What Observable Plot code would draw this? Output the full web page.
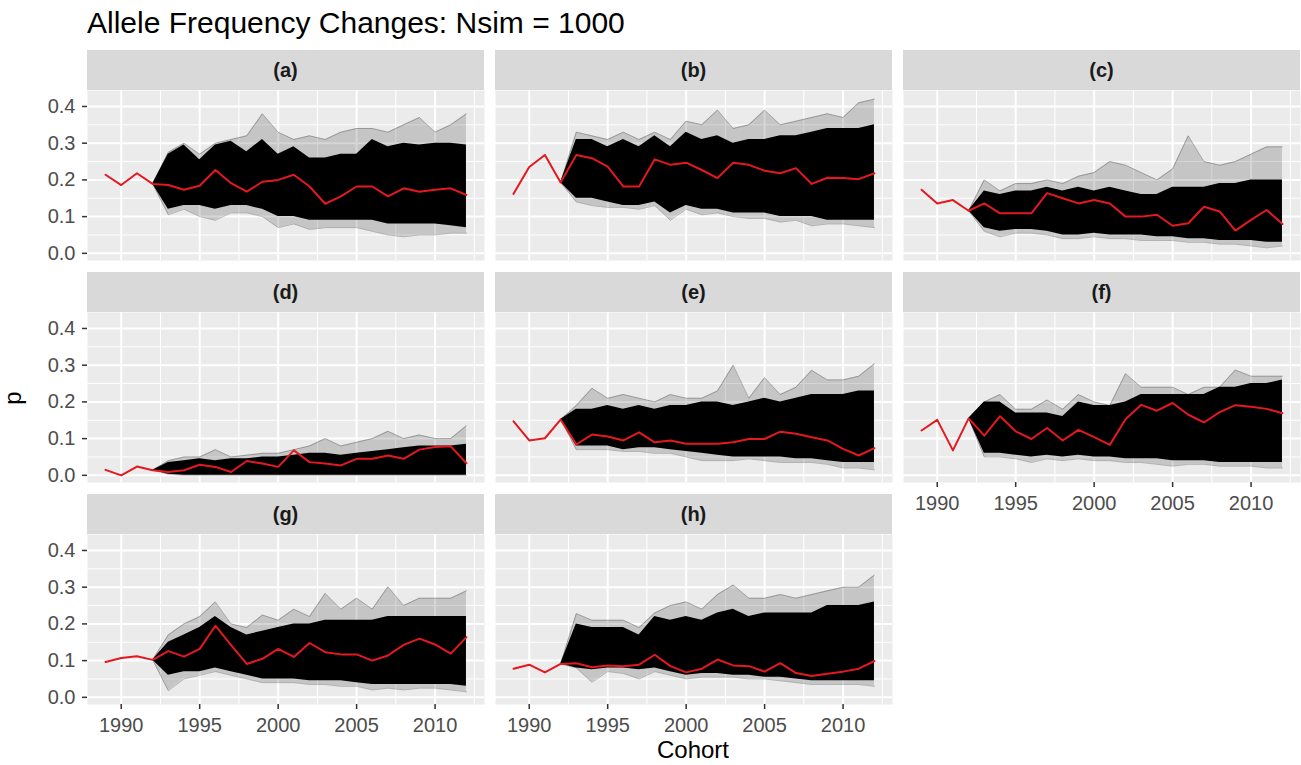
<!DOCTYPE html>
<html>
<head>
<meta charset="utf-8">
<script src="https://cdn.jsdelivr.net/npm/d3@7"></script>
<script src="https://cdn.jsdelivr.net/npm/@observablehq/plot@0.6"></script>
<style>
  body { margin: 0; background: #fff; }
  #root { position: relative; width: 1301px; height: 765px; overflow: hidden; background: #fff;
          font-family: "Liberation Sans", Arial, sans-serif; }
  .strip { position: absolute; height: 40px; background: #D9D9D9; color: #1A1A1A; font-weight: bold;
           font-size: 20px; line-height: 40px; text-align: center; }
  .title { position: absolute; left: 87px; top: 8px; font-size: 30px; line-height: 30px; color: #000; white-space: nowrap; }
  .xlab { position: absolute; left: 593px; width: 200px; top: 740px; font-size: 24px; line-height: 20px; height: 22px; text-align: center; color: #000; }
  .ylab { position: absolute; left: -37px; width: 100px; top: 386px; height: 24px; font-size: 24px; line-height: 24px;
          text-align: center; color: #000; transform: rotate(-90deg); transform-origin: 50% 50%; }
</style>
</head>
<body>
<div id="root"></div>
<script>
// ---------- data ----------
const cohorts = [1989,1990,1991,1992,1993,1994,1995,1996,1997,1998,1999,2000,2001,2002,2003,2004,2005,2006,2007,2008,2009,2010,2011,2012];
const simCohorts = [1992,1993,1994,1995,1996,1997,1998,1999,2000,2001,2002,2003,2004,2005,2006,2007,2008,2009,2010,2011,2012];
const panelLabels = ["(a)","(b)","(c)","(d)","(e)","(f)","(g)","(h)"];
const xTicks = [1990,1995,2000,2005,2010];
const xMinor = [1992.5,1997.5,2002.5,2007.5,2012.5];
const yTicks = [0,0.1,0.2,0.3,0.4];
const yMinor = [0.05,0.15,0.25,0.35];

// observed allele frequency (red line), per cohort
const obs_a = [0.214,0.186,0.218,0.189,0.186,0.173,0.184,0.227,0.191,0.168,0.195,0.200,0.214,0.182,0.135,0.155,0.182,0.182,0.155,0.177,0.168,0.173,0.177,0.159];
const obs_b = [0.162,0.235,0.268,0.193,0.268,0.259,0.236,0.182,0.182,0.256,0.241,0.247,0.227,0.205,0.247,0.241,0.225,0.218,0.232,0.189,0.206,0.205,0.202,0.218];
const obs_c = [0.173,0.136,0.145,0.116,0.136,0.109,0.109,0.109,0.164,0.150,0.136,0.145,0.136,0.100,0.100,0.105,0.075,0.082,0.127,0.114,0.062,0.091,0.118,0.080];
const obs_d = [0.015,0.000,0.024,0.014,0.009,0.014,0.029,0.023,0.009,0.039,0.032,0.023,0.068,0.036,0.032,0.027,0.045,0.045,0.054,0.045,0.070,0.077,0.079,0.033];
const obs_e = [0.147,0.095,0.101,0.152,0.084,0.111,0.106,0.095,0.117,0.090,0.095,0.086,0.086,0.086,0.090,0.099,0.099,0.119,0.113,0.104,0.095,0.072,0.054,0.074];
const obs_f = [0.122,0.151,0.068,0.155,0.108,0.161,0.120,0.099,0.129,0.095,0.124,0.104,0.083,0.153,0.192,0.176,0.197,0.165,0.144,0.172,0.191,0.187,0.181,0.169];
const obs_g = [0.096,0.107,0.112,0.102,0.126,0.111,0.132,0.195,0.142,0.091,0.105,0.132,0.110,0.148,0.123,0.117,0.117,0.100,0.114,0.143,0.160,0.144,0.119,0.164];
const obs_h = [0.078,0.089,0.068,0.091,0.093,0.082,0.087,0.085,0.089,0.116,0.085,0.068,0.078,0.103,0.087,0.085,0.070,0.093,0.066,0.058,0.064,0.070,0.078,0.099];

// simulated trajectories (Nsim = 1000): dense core band and faint outer extremes, per sim cohort
const coreHi_a  = [0.189,0.27,0.295,0.255,0.295,0.305,0.277,0.31,0.27,0.29,0.26,0.26,0.27,0.27,0.31,0.29,0.30,0.295,0.30,0.30,0.295];
const coreLo_a  = [0.189,0.12,0.13,0.13,0.12,0.13,0.13,0.12,0.10,0.10,0.09,0.09,0.09,0.09,0.09,0.08,0.08,0.08,0.08,0.075,0.07];
const outerHi_a = [0.189,0.275,0.30,0.27,0.30,0.31,0.32,0.38,0.33,0.31,0.32,0.31,0.33,0.34,0.34,0.33,0.35,0.37,0.33,0.35,0.38];
const outerLo_a = [0.189,0.105,0.12,0.10,0.09,0.11,0.11,0.10,0.07,0.08,0.065,0.07,0.07,0.07,0.06,0.05,0.045,0.05,0.05,0.055,0.055];

const coreHi_b  = [0.193,0.31,0.31,0.29,0.31,0.29,0.32,0.29,0.33,0.31,0.32,0.30,0.31,0.31,0.32,0.32,0.33,0.34,0.34,0.34,0.35];
const coreLo_b  = [0.193,0.15,0.15,0.14,0.13,0.13,0.14,0.11,0.13,0.12,0.12,0.11,0.11,0.11,0.10,0.10,0.10,0.09,0.09,0.09,0.09];
const outerHi_b = [0.193,0.33,0.32,0.31,0.33,0.31,0.33,0.31,0.36,0.35,0.39,0.34,0.35,0.39,0.35,0.36,0.37,0.38,0.37,0.41,0.42];
const outerLo_b = [0.193,0.14,0.13,0.125,0.125,0.12,0.13,0.09,0.12,0.105,0.11,0.10,0.095,0.095,0.085,0.09,0.075,0.08,0.08,0.075,0.07];

const coreHi_c  = [0.116,0.17,0.16,0.17,0.17,0.18,0.17,0.18,0.17,0.18,0.17,0.16,0.16,0.18,0.18,0.18,0.19,0.19,0.20,0.20,0.20];
const coreLo_c  = [0.116,0.07,0.06,0.065,0.065,0.06,0.05,0.05,0.055,0.05,0.05,0.05,0.045,0.045,0.04,0.04,0.035,0.035,0.035,0.03,0.03];
const outerHi_c = [0.116,0.20,0.17,0.19,0.19,0.20,0.19,0.21,0.22,0.25,0.24,0.22,0.20,0.23,0.32,0.25,0.24,0.25,0.27,0.29,0.29];
const outerLo_c = [0.116,0.06,0.045,0.055,0.055,0.05,0.04,0.04,0.045,0.04,0.04,0.035,0.035,0.035,0.03,0.03,0.025,0.025,0.02,0.015,0.02];

const coreHi_d  = [0.014,0.035,0.04,0.045,0.04,0.045,0.045,0.05,0.05,0.055,0.06,0.06,0.055,0.06,0.065,0.07,0.075,0.08,0.08,0.08,0.085];
const coreLo_d  = [0.014,0.003,0,0,0,0,0,0,0,0,0,0,0,0,0,0,0,0,0,0,0];
const outerHi_d = [0.014,0.04,0.05,0.05,0.07,0.05,0.055,0.06,0.06,0.07,0.08,0.10,0.08,0.09,0.10,0.12,0.10,0.11,0.10,0.10,0.135];
const outerLo_d = [0.014,0.003,0,0,0,0,0,0,0,0,0,0,0,0,0,0,0,0,0,0,0];

const coreHi_e  = [0.152,0.18,0.18,0.19,0.18,0.19,0.18,0.19,0.19,0.20,0.20,0.19,0.20,0.21,0.20,0.21,0.22,0.22,0.22,0.23,0.23];
const coreLo_e  = [0.152,0.08,0.08,0.08,0.07,0.075,0.075,0.07,0.065,0.06,0.055,0.05,0.05,0.05,0.05,0.045,0.045,0.04,0.035,0.035,0.035];
const outerHi_e = [0.152,0.19,0.237,0.21,0.22,0.21,0.20,0.22,0.21,0.21,0.23,0.30,0.21,0.266,0.22,0.24,0.286,0.26,0.26,0.27,0.304];
const outerLo_e = [0.152,0.07,0.07,0.07,0.065,0.065,0.06,0.06,0.05,0.04,0.04,0.04,0.045,0.04,0.035,0.035,0.035,0.03,0.02,0.02,0.015];

const coreHi_f  = [0.155,0.20,0.20,0.17,0.17,0.17,0.16,0.20,0.19,0.19,0.20,0.22,0.22,0.22,0.22,0.22,0.24,0.24,0.25,0.25,0.26];
const coreLo_f  = [0.155,0.06,0.06,0.055,0.05,0.055,0.05,0.055,0.05,0.05,0.045,0.045,0.045,0.04,0.04,0.04,0.035,0.035,0.035,0.035,0.035];
const outerHi_f = [0.155,0.20,0.22,0.18,0.18,0.205,0.18,0.22,0.20,0.19,0.277,0.24,0.24,0.24,0.22,0.24,0.24,0.287,0.27,0.27,0.27];
const outerLo_f = [0.155,0.05,0.05,0.045,0.035,0.045,0.04,0.045,0.04,0.04,0.035,0.035,0.03,0.025,0.03,0.03,0.025,0.025,0.025,0.02,0.02];

const coreHi_g  = [0.102,0.15,0.17,0.19,0.22,0.19,0.17,0.18,0.19,0.20,0.20,0.21,0.21,0.21,0.21,0.22,0.22,0.22,0.22,0.22,0.22];
const coreLo_g  = [0.102,0.06,0.07,0.07,0.08,0.07,0.06,0.05,0.05,0.05,0.045,0.045,0.045,0.04,0.035,0.035,0.035,0.035,0.035,0.035,0.03];
const outerHi_g = [0.102,0.17,0.20,0.22,0.26,0.20,0.19,0.224,0.21,0.24,0.22,0.283,0.24,0.27,0.24,0.301,0.25,0.27,0.27,0.27,0.29];
const outerLo_g = [0.102,0.018,0.05,0.06,0.07,0.06,0.05,0.04,0.04,0.04,0.035,0.035,0.03,0.03,0.02,0.025,0.02,0.025,0.025,0.02,0.015];

const coreHi_h  = [0.091,0.20,0.19,0.19,0.19,0.17,0.22,0.21,0.22,0.21,0.23,0.24,0.22,0.23,0.23,0.23,0.23,0.25,0.25,0.25,0.26];
const coreLo_h  = [0.091,0.08,0.075,0.08,0.08,0.075,0.08,0.07,0.06,0.065,0.065,0.06,0.06,0.055,0.055,0.05,0.045,0.045,0.045,0.045,0.045];
const outerHi_h = [0.091,0.228,0.21,0.21,0.21,0.19,0.23,0.25,0.26,0.24,0.28,0.306,0.27,0.27,0.28,0.27,0.28,0.29,0.30,0.30,0.333];
const outerLo_h = [0.091,0.08,0.041,0.07,0.065,0.05,0.07,0.06,0.05,0.055,0.055,0.055,0.05,0.05,0.045,0.04,0.035,0.035,0.035,0.035,0.03];

// ---------- assembly ----------
const panels = [
  {obs: obs_a, cHi: coreHi_a, cLo: coreLo_a, oHi: outerHi_a, oLo: outerLo_a},
  {obs: obs_b, cHi: coreHi_b, cLo: coreLo_b, oHi: outerHi_b, oLo: outerLo_b},
  {obs: obs_c, cHi: coreHi_c, cLo: coreLo_c, oHi: outerHi_c, oLo: outerLo_c},
  {obs: obs_d, cHi: coreHi_d, cLo: coreLo_d, oHi: outerHi_d, oLo: outerLo_d},
  {obs: obs_e, cHi: coreHi_e, cLo: coreLo_e, oHi: outerHi_e, oLo: outerLo_e},
  {obs: obs_f, cHi: coreHi_f, cLo: coreLo_f, oHi: outerHi_f, oLo: outerLo_f},
  {obs: obs_g, cHi: coreHi_g, cLo: coreLo_g, oHi: outerHi_g, oLo: outerLo_g},
  {obs: obs_h, cHi: coreHi_h, cLo: coreLo_h, oHi: outerHi_h, oLo: outerLo_h}
];

const root = document.getElementById("root");
const colLeft = [87, 495, 903];
const rowTop = [90, 312, 534];
const panelW = 397, panelH = 170, stripH = 40;
const font = '"Liberation Sans", Arial, sans-serif';

function addDiv(cls, text, css) {
  const d = document.createElement("div");
  d.className = cls; d.textContent = text;
  Object.assign(d.style, css || {});
  root.appendChild(d);
  return d;
}

addDiv("title", "Allele Frequency Changes: Nsim = 1000");
addDiv("xlab", "Cohort");
addDiv("ylab", "p");

panels.forEach((p, i) => {
  const col = i % 3, row = Math.floor(i / 3);
  const hasY = col === 0;
  const hasX = i >= 5;
  const ml = hasY ? 87 : 0;
  const mb = hasX ? 45 : 0;

  addDiv("strip", panelLabels[i], {left: colLeft[col] + "px", top: (rowTop[row] - stripH) + "px", width: panelW + "px"});

  const obsData = cohorts.map((c, j) => ({cohort: c, p: p.obs[j]}));
  const simData = simCohorts.map((c, j) => ({cohort: c, cHi: p.cHi[j], cLo: p.cLo[j], oHi: p.oHi[j], oLo: p.oLo[j]}));

  const marks = [
    Plot.frame({fill: "#EBEBEB", stroke: null}),
    Plot.gridX(xMinor, {stroke: "white", strokeOpacity: 1, strokeWidth: 1}),
    Plot.gridY(yMinor, {stroke: "white", strokeOpacity: 1, strokeWidth: 1}),
    Plot.gridX(xTicks, {stroke: "white", strokeOpacity: 1, strokeWidth: 2}),
    Plot.gridY(yTicks, {stroke: "white", strokeOpacity: 1, strokeWidth: 2}),
    Plot.areaY(simData, {x: "cohort", y1: "oLo", y2: "oHi", fill: "black", fillOpacity: 0.16}),
    Plot.lineY(simData, {x: "cohort", y: "oHi", stroke: "black", strokeOpacity: 0.3, strokeWidth: 0.8}),
    Plot.lineY(simData, {x: "cohort", y: "oLo", stroke: "black", strokeOpacity: 0.3, strokeWidth: 0.8}),
    Plot.areaY(simData, {x: "cohort", y1: "cLo", y2: "cHi", fill: "black", fillOpacity: 1}),
    Plot.lineY(obsData, {x: "cohort", y: "p", stroke: "#E3191F", strokeWidth: 2})
  ];
  if (hasY) marks.push(Plot.axisY(yTicks, {tickFormat: d3.format(".1f"), tickSize: 5, tickPadding: 7, fontSize: 20,
                                           fill: "#4D4D4D", stroke: "#333333", strokeWidth: 1.5, label: null}));
  if (hasX) marks.push(Plot.axisX(xTicks, {tickFormat: "d", tickSize: 5, tickPadding: 8, fontSize: 20,
                                           fill: "#4D4D4D", stroke: "#333333", strokeWidth: 1.5, label: null}));

  const chart = Plot.plot({
    width: ml + panelW,
    height: panelH + mb,
    marginLeft: ml, marginRight: 0, marginTop: 0, marginBottom: mb,
    style: {fontFamily: font, fontSize: "20px", background: "transparent", overflow: "visible", maxWidth: "none"},
    x: {domain: [1987.85, 2013.15], axis: null},
    y: {domain: [-0.0195, 0.4435], axis: null},
    marks
  });
  chart.style.position = "absolute";
  chart.style.left = (colLeft[col] - ml) + "px";
  chart.style.top = rowTop[row] + "px";
  root.appendChild(chart);
});
</script>
</body>
</html>
